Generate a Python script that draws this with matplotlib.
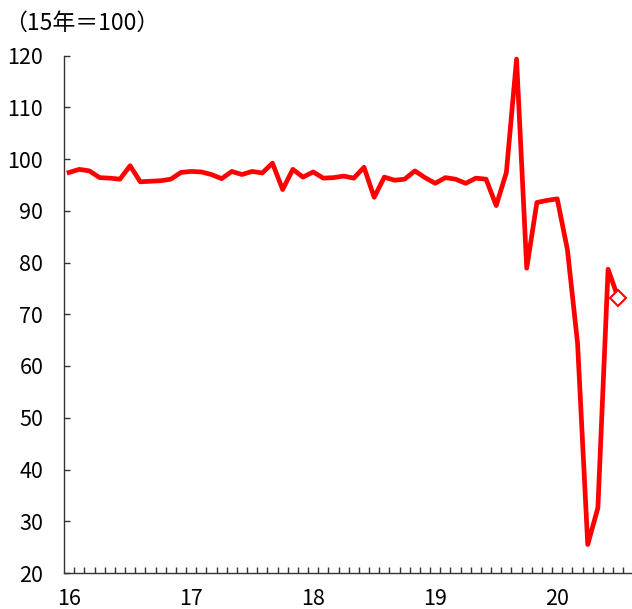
import numpy as np
import matplotlib
matplotlib.use("Agg")
import matplotlib.pyplot as plt
from matplotlib.ticker import FixedLocator

plt.rcParams['font.family'] = ['Noto Sans CJK JP', 'DejaVu Sans']

# monthly index, Jan 2016 .. Jul 2020 (2015 = 100)
v2016 = [97.4, 98.0, 97.7, 96.4, 96.3, 96.1, 98.7, 95.6, 95.7, 95.8, 96.1, 97.4]
v2017 = [97.6, 97.5, 97.0, 96.2, 97.6, 97.0, 97.6, 97.3, 99.2, 94.1, 98.0, 96.5]
v2018 = [97.5, 96.3, 96.4, 96.7, 96.3, 98.4, 92.6, 96.5, 95.9, 96.1, 97.7, 96.4]
v2019 = [95.3, 96.4, 96.1, 95.3, 96.3, 96.1, 91.0, 97.4, 119.3, 78.9, 91.6, 92.0]
v2020 = [92.3, 82.5, 64.4, 25.5, 32.6, 78.7, 73.1]
year_labels = ["16", "17", "18", "19", "20"]
n_categories = 56
unit_label = "（15年＝100）"

values = v2016 + v2017 + v2018 + v2019 + v2020
x = np.arange(len(values))

W, H = 632, 609
fig = plt.figure(figsize=(W / 100, H / 100), dpi=100)
left, right = 64 / W, 633.5 / W
top, bottom = 1 - 55.5 / H, 1 - 573 / H
ax = fig.add_axes([left, bottom, right - left, top - bottom])

ax.plot(x, values, color="#ff0000", lw=3.4, solid_joinstyle="round", zorder=3)
# last value shown with a hollow diamond
ax.plot(x[-1], values[-1], marker="D", ms=8, mfc="white", mec="#ff0000",
        mew=1.5, ls="none", zorder=4)

ax.set_xlim(-0.5, n_categories - 0.5)
ax.set_ylim(20, 120)
ax.set_yticks(np.arange(20, 121, 10))

ax.xaxis.set_major_locator(FixedLocator(np.arange(0, len(year_labels) * 12, 12)))
ax.set_xticklabels(year_labels)
ax.xaxis.set_minor_locator(FixedLocator(np.arange(0.5, n_categories - 0.5, 1)))

ax.spines[["top", "right"]].set_visible(False)
for s in ("left", "bottom"):
    ax.spines[s].set_color("#333333")
    ax.spines[s].set_linewidth(1.0)

ax.tick_params(axis="y", direction="in", length=4.5, width=1.0, color="#333333",
               labelsize=15.5, pad=15)
ax.tick_params(axis="x", which="major", length=0, labelsize=15.5, pad=11)
ax.tick_params(axis="x", which="minor", direction="in", length=4, width=1.0,
               color="#333333")

fig.text(4 / W, 1 - 23 / H, unit_label, fontsize=16.5, va="center", ha="left")

fig.savefig("out.png", dpi=100)
